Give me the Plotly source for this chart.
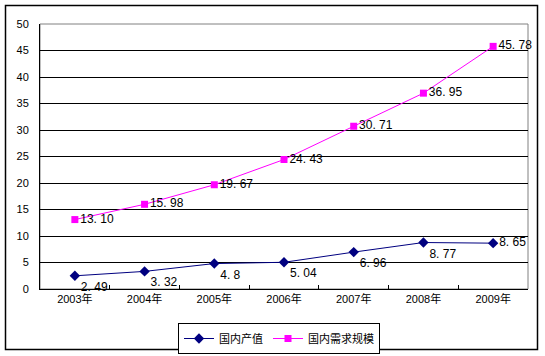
import plotly.graph_objects as go

years = ["2003年", "2004年", "2005年", "2006年", "2007年", "2008年", "2009年"]
output_vals = [2.49, 3.32, 4.8, 5.04, 6.96, 8.77, 8.65]
demand_vals = [13.10, 15.98, 19.67, 24.43, 30.71, 36.95, 45.78]
output_name = "国内产值"
demand_name = "国内需求规模"

FONT = "Liberation Sans, Noto Sans CJK SC, sans-serif"

def lab(v, fmt):
    return fmt.format(v).replace(".", ". ")

output_text = [lab(v, "{}") for v in output_vals]
demand_text = [lab(v, "{:.2f}") for v in demand_vals]

fig = go.Figure()
fig.add_trace(go.Scatter(
    x=years, y=output_vals, name=output_name, mode="lines+markers+text",
    line=dict(color="#000080", width=1),
    marker=dict(symbol="diamond", size=8, color="#000080"),
    text=output_text,
    textposition=["bottom right"] * 6 + ["middle right"],
    textfont=dict(family=FONT, size=12, color="black"),
    cliponaxis=False,
))
fig.add_trace(go.Scatter(
    x=years, y=demand_vals, name=demand_name, mode="lines+markers+text",
    line=dict(color="#FF00FF", width=1),
    marker=dict(symbol="square", size=7, color="#FF00FF"),
    text=demand_text,
    textposition="middle right",
    textfont=dict(family=FONT, size=12, color="black"),
    cliponaxis=False,
))

L, R, T, B = 40, 17, 24, 67
W, H = 545, 356
pw, ph = W - L - R, H - T - B

def px2x(p):
    return (p - L) / pw

def px2y(p):
    return (H - B - p) / ph

fig.update_layout(
    template="none",
    width=W, height=H,
    margin=dict(l=L, r=R, t=T, b=B, autoexpand=False),
    paper_bgcolor="white", plot_bgcolor="white",
    font=dict(family=FONT, size=11, color="black"),
    showlegend=True,
    legend=dict(
        orientation="h", x=px2x(178), xanchor="left", y=px2y(323), yanchor="top",
        bordercolor="black", borderwidth=1, bgcolor="white",
        font=dict(family=FONT, size=11, color="black"),
        itemwidth=30, tracegroupgap=0,
    ),
    xaxis=dict(
        type="category", range=[-0.5, 6.5], tickson="boundaries",
        ticks="inside", ticklen=4, tickcolor="black",
        showline=True, linecolor="black", linewidth=1,
        showgrid=False, zeroline=False, automargin=False,
        tickfont=dict(family=FONT, size=11),
    ),
    yaxis=dict(
        range=[0, 50], dtick=5, tick0=0,
        ticks="inside", ticklen=4, tickcolor="black",
        showline=True, linecolor="black", linewidth=1,
        showgrid=True, gridcolor="black", gridwidth=1,
        zeroline=False, ticklabelstandoff=8, automargin=False,
        tickfont=dict(family=FONT, size=11),
    ),
    shapes=[
        dict(type="rect", xref="paper", yref="paper", x0=0, x1=1, y0=0, y1=1,
             line=dict(color="#808080", width=1), layer="below"),
        dict(type="rect", xref="paper", yref="paper",
             x0=px2x(5.5), x1=px2x(537.5), y0=px2y(5.5), y1=px2y(349.5),
             line=dict(color="black", width=1.5), layer="below"),
    ],
)

fig.write_html(
    "out.html",
    config={"displayModeBar": False},
    post_script="document.body.style.margin='0px';document.body.style.padding='0px';document.body.style.overflow='hidden';",
)
